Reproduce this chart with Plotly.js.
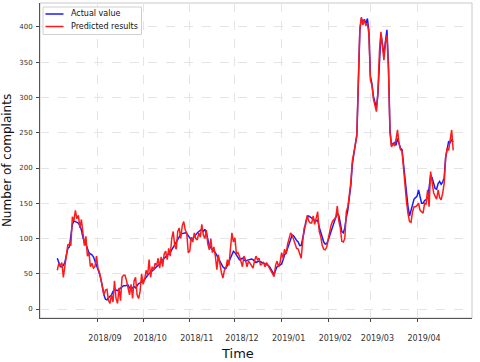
<!DOCTYPE html>
<html>
<head>
<meta charset="utf-8">
<script src="https://cdn.plot.ly/plotly-3.0.1.min.js"></script>
<style>html,body{margin:0;padding:0;background:#fff;}#chart{width:480px;height:362px;}</style>
</head>
<body>
<div id="chart"></div>
<script>
// First day of the daily series
const startDate = '2018-08-05';

// Actual value (daily)
const actualValues = [
72,64,60,60,62,66,75,86,88,105,120,125,124,123,122,118,112,102,94,92,
86,80,78,77,74,68,62,58,50,42,30,20,14,13,16,18,20,25,27,27,
26,28,30,32,33,33,33,34,30,28,30,32,30,33,36,37,38,40,42,46,
48,50,52,55,57,59,60,62,64,66,70,72,74,76,78,80,84,88,92,96,
100,103,106,107,108,108,107,104,100,98,100,103,105,108,110,112,113,110,113,108,
100,90,87,85,82,80,76,72,68,63,60,58,58,62,67,72,78,82,80,76,
72,70,71,72,70,68,69,70,70,71,70,68,66,67,68,67,66,65,64,64,
62,60,56,52,49,55,60,61,62,64,70,77,80,86,90,98,105,104,100,97,
95,90,90,98,110,123,130,132,130,129,128,125,125,126,116,108,101,95,92,93,
98,105,112,118,124,130,135,133,122,110,108,115,130,140,158,175,205,222,236,248,
320,395,412,406,411,404,412,395,330,320,302,292,285,305,360,390,376,360,380,396,
345,255,232,235,236,232,242,236,228,226,205,180,160,145,132,140,150,156,158,160,
169,158,150,150,154,155,158,172,190,186,176,171,170,178,181,177,180,186,215,230,
238,236,240,237
];

// Predicted results (daily)
const predictedValues = [
55,65,62,66,45,60,70,91,92,90,131,125,140,128,133,115,127,108,90,103,
75,80,60,65,58,60,75,58,52,42,28,20,27,28,12,8,20,10,40,15,
8,30,12,45,48,48,40,30,20,35,15,40,45,20,15,25,50,35,42,55,
48,70,45,60,55,65,62,72,58,74,60,78,82,70,86,75,100,110,90,85,
110,115,100,118,124,112,108,80,82,102,95,108,100,98,108,102,120,105,100,112,
92,84,100,80,88,75,56,77,62,52,44,55,58,70,62,90,108,95,101,78,
80,75,65,60,75,70,60,68,65,62,58,68,75,70,72,62,64,66,60,66,
62,58,55,50,46,62,68,60,66,80,72,85,78,92,100,108,105,98,90,86,
85,78,72,95,115,120,133,125,122,122,132,120,128,138,110,103,90,85,84,88,
100,112,120,125,128,130,146,125,115,96,95,100,138,145,162,180,210,224,238,245,
325,398,414,403,410,402,405,390,325,318,298,288,280,308,365,393,372,353,378,388,
340,250,230,234,232,240,254,235,226,224,200,172,152,135,124,123,138,145,145,147,
150,140,138,136,150,149,169,145,195,178,165,160,156,169,158,155,164,178,215,228,
225,240,254,225
];

// Series names and colours
const seriesNames = ['Actual value', 'Predicted results'];
const seriesColors = ['#1a1aff', '#ff1a1a'];

// Axis ticks and titles
const tickDates = ['2018-09-01','2018-10-01','2018-11-01','2018-12-01','2019-01-01','2019-02-01','2019-03-01','2019-04-01'];
const tickLabels = ['2018/09','2018/10','2018/11','2018/12','2019/01','2019/02','2019/03','2019/04'];
const yTicks = [0,50,100,150,200,250,300,350,400];
const xTitle = 'Time';
const yTitle = 'Number of complaints';

function buildDates(start, n) {
  const out = [];
  const d0 = new Date(start + 'T00:00:00Z');
  for (let i = 0; i < n; i++) {
    const d = new Date(d0.getTime() + i * 86400000);
    out.push(d.toISOString().slice(0, 10));
  }
  return out;
}
const dates = buildDates(startDate, actualValues.length);

const traces = [
  {x: dates, y: actualValues, type: 'scatter', mode: 'lines', name: seriesNames[0],
   line: {color: seriesColors[0], width: 1.5}},
  {x: dates, y: predictedValues, type: 'scatter', mode: 'lines', name: seriesNames[1],
   line: {color: seriesColors[1], width: 1.5}}
];

const FONT = 'DejaVu Sans, sans-serif';
// legend drawn in paper coordinates (plot area: 432 x 315 px)
const W = 432, H = 315;
const px = v => (v - 40) / W;
const py = v => (318 - v) / H;

const legendShapes = [
  {type: 'rect', xref: 'paper', yref: 'paper', x0: px(43), x1: px(141.5), y0: py(34.5), y1: py(7),
   line: {color: '#d0d0d0', width: 1}, fillcolor: 'rgba(255,255,255,0.9)', layer: 'above'},
  {type: 'line', xref: 'paper', yref: 'paper', x0: px(45.5), x1: px(63.5), y0: py(14), y1: py(14),
   line: {color: seriesColors[0], width: 1.5}, layer: 'above'},
  {type: 'line', xref: 'paper', yref: 'paper', x0: px(45.5), x1: px(63.5), y0: py(26.5), y1: py(26.5),
   line: {color: seriesColors[1], width: 1.5}, layer: 'above'}
];
const annotations = [
  {xref: 'paper', yref: 'paper', x: px(68.5), y: py(14), xanchor: 'left', yanchor: 'middle',
   text: seriesNames[0], showarrow: false, font: {family: FONT, size: 8, color: '#111'}},
  {xref: 'paper', yref: 'paper', x: px(68.5), y: py(26.5), xanchor: 'left', yanchor: 'middle',
   text: seriesNames[1], showarrow: false, font: {family: FONT, size: 8, color: '#111'}},
  {xref: 'paper', yref: 'paper', x: px(237), y: py(353), xanchor: 'center', yanchor: 'middle',
   text: xTitle, showarrow: false, font: {family: FONT, size: 13, color: '#111'}}
];

const layout = {
  width: 480, height: 362,
  margin: {l: 40, r: 8, t: 3, b: 44},
  paper_bgcolor: '#fff', plot_bgcolor: '#fff',
  showlegend: false,
  xaxis: {
    type: 'date',
    range: ['2018-07-24 12:00', '2019-05-07 12:00'],
    tickvals: tickDates, ticktext: tickLabels,
    ticks: 'outside', ticklen: 3, tickcolor: '#444', tickwidth: 1,
    ticklabelstandoff: 9, ticklabelshift: 7,
    showgrid: true, gridcolor: '#e4e4e4', griddash: 'dash', gridwidth: 1,
    showline: true, linecolor: '#555', linewidth: 1, mirror: false,
    zeroline: false, tickfont: {family: FONT, size: 8, color: '#333'}
  },
  yaxis: {
    range: [-12.7, 434],
    tickvals: yTicks,
    ticks: 'outside', ticklen: 3, tickcolor: '#444', tickwidth: 1,
    ticklabelstandoff: 2,
    showgrid: true, gridcolor: '#e4e4e4', griddash: 'dash', gridwidth: 1,
    showline: true, linecolor: '#555', linewidth: 1, mirror: false,
    zeroline: false, tickfont: {family: FONT, size: 7, color: '#333'},
    title: {text: yTitle, font: {family: FONT, size: 12, color: '#111'}, standoff: 8}
  },
  shapes: [{type: 'rect', xref: 'paper', yref: 'paper', x0: 0, x1: 1, y0: 0, y1: 1,
    line: {color: '#c8c8c8', width: 1}, layer: 'below'}].concat(legendShapes),
  annotations: annotations
};

Plotly.newPlot('chart', traces, layout, {displayModeBar: false, staticPlot: true});
</script>
</body>
</html>
